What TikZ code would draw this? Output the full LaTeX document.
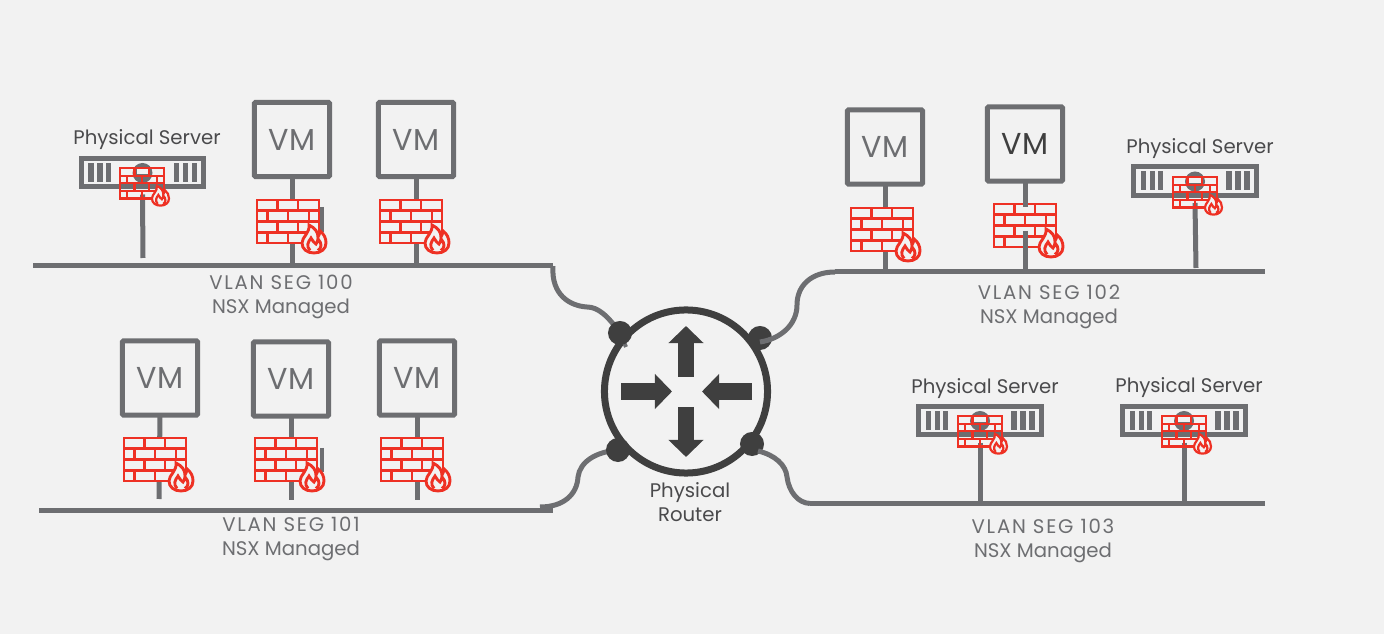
\documentclass[tikz,border=0pt]{standalone}
\usepackage{fontspec}
\setmainfont{Poppins}
\usepackage{tikz}
\usetikzlibrary{arrows.meta}

\definecolor{bgcol}{HTML}{F2F2F2}
\definecolor{wirecol}{HTML}{6D6E71}
\definecolor{routercol}{HTML}{3F3F3F}
\definecolor{fwcol}{HTML}{EE3124}
\definecolor{txtcol}{HTML}{4A4A4C}

\newcommand{\fwbricks}{
    \draw[fwline] (0,0) rectangle (62,43);
    \draw[fwline] (0,10.75) -- (62,10.75);
    \draw[fwline] (0,21.5) -- (62,21.5);
    \draw[fwline] (0,32.25) -- (62,32.25);
    \draw[fwline] (20.5,0) -- (20.5,10.75);
    \draw[fwline] (41,0) -- (41,10.75);
    \draw[fwline] (10.3,10.75) -- (10.3,21.5);
    \draw[fwline] (31,10.75) -- (31,21.5);
    \draw[fwline] (52,10.75) -- (52,21.5);
    \draw[fwline] (20.5,21.5) -- (20.5,32.25);
    \draw[fwline] (41,21.5) -- (41,32.25);
    \draw[fwline] (10.3,32.25) -- (10.3,43);
    \draw[fwline] (31,32.25) -- (31,43);
    % Flame
    \draw[fwline,fill=bgcol] (57,53) .. controls (50,53) and (45,49) .. (45,43)
        .. controls (45,37) and (53,33) .. (52,25)
        .. controls (58,28) and (61,32) .. (61,37)
        .. controls (62,35) and (63,33) .. (63,31)
        .. controls (67,34) and (69,38) .. (69,43)
        .. controls (69,49) and (64,53) .. (57,53) -- cycle;
    \draw[fwline] (53,50.5) .. controls (49,46) and (51,42) .. (54,38)
        .. controls (56,41) and (57,43) .. (59,44)
        .. controls (60,43) and (61,41) .. (61,39)
        .. controls (65,43) and (65,48) .. (61,50.5);
}
\newcommand{\seglines}[2]{{\addfontfeature{LetterSpace=9}#1}\\#2}

\tikzset{
    x=0.01cm, y=-0.01cm,
    seg/.style={draw=wirecol,line width=0.05cm},
    drop/.style={draw=wirecol,line width=0.05cm},
    stub/.style={draw=wirecol,line width=0.04cm},
    vmbox/.style={draw=wirecol,line width=0.05cm,rounded corners=0.01cm,minimum width=0.75cm,
        minimum height=0.74cm,inner sep=0pt,outer sep=0pt,text=wirecol,
        font=\fontsize{8.6pt}{10pt}\selectfont},
    serverbox/.style={draw=wirecol,line width=0.05cm,fill=bgcol,minimum width=1.22cm,
        minimum height=0.28cm,inner sep=0pt,outer sep=0pt},
    srvlabel/.style={text=txtcol,inner sep=0pt,font=\fontsize{5.6pt}{6.83pt}\selectfont},
    seglabel/.style={text=wirecol,inner sep=0pt,align=center,font=\fontsize{5.6pt}{6.83pt}\selectfont},
    portdot/.style={circle,fill=routercol,minimum size=0.24cm,inner sep=0pt,outer sep=0pt},
    routerarrow/.style={draw=routercol,line width=0.16cm,
        -{Triangle[length=0.17cm,width=0.34cm,fill=routercol]}},
    fwline/.style={draw=fwcol,line width=0.029cm},
    fwbig/.style={},
    fwsmall/.style={scale=0.71,fwline/.style={draw=fwcol,line width=0.022cm}},
    firewall/.pic={\fill[bgcol] (0,0) rectangle (62,43); \fwbricks},
    fwopen/.pic={\fwbricks},
    srvface/.pic={
        \fill[wirecol] (0,0.5) circle (10);
        \fill[bgcol] (-6,-3) rectangle (6,2);
        \fill[wirecol] (-54.5,-9.5) rectangle (-49,9.5);
        \fill[wirecol] (-45.5,-9.5) rectangle (-40,9.5);
        \fill[wirecol] (-37,-9.5) rectangle (-32,9.5);
        \fill[wirecol] (31,-9.5) rectangle (36.5,9.5);
        \fill[wirecol] (40,-9.5) rectangle (45.5,9.5);
        \fill[wirecol] (49,-9.5) rectangle (54.5,9.5);
    }
}

\begin{document}
\begin{tikzpicture}
\fill[bgcol] (0,0) rectangle (1384,634);

% Segment ends
\coordinate (seg100w) at (33,266);
\coordinate (seg100e) at (553,266);
\coordinate (seg101w) at (39,510.5);
\coordinate (seg101e) at (553,510.5);
\coordinate (seg101c) at (540,507);
\coordinate (seg102w) at (835,272);
\coordinate (seg102e) at (1265,272);
\coordinate (seg103w) at (810,503.5);
\coordinate (seg103e) at (1265,503.5);
\coordinate (C1) at (620,333);
\coordinate (C1b) at (626,347);
\coordinate (C3) at (618,450);

% Router
\node[portdot] (P2) at (760,338){};
\node[circle,draw=routercol,line width=0.07cm,fill=bgcol,minimum size=1.63cm,inner sep=0pt] (R1) at (686,391.5){};
\draw[routerarrow] (686,377) -- (686,326);
\draw[routerarrow] (686,407) -- (686,457);
\draw[routerarrow] (621,391.5) -- (672,391.5);
\draw[routerarrow] (752,391.5) -- (702,391.5);
\node[seglabel,text=txtcol] (R1label) at (690,502){Physical\\Router};

% Segments
\draw[seg] (seg100w) -- (seg100e);
\draw[seg] (seg101w) -- (seg101e);
\draw[seg] (seg102w) -- (seg102e);
\draw[seg] (seg103w) -- (seg103e);

% Uplinks
\draw[seg] (seg100e) .. controls (551,295) and (570,306) .. (587,307)
    .. controls (598,307) and (608,316) .. (C1);
\draw[stub] (C1) -- (C1b);
\draw[seg] (seg101c) .. controls (563,507) and (577,495) .. (578,477)
    .. controls (580,462) and (595,452) .. (C3);
\node[portdot] (P1) at (C1){};
\node[portdot] (P3) at (C3){};
\node[portdot] (P4) at (752,444){};
\draw[seg] (seg102w) .. controls (812,272) and (797,285) .. (797,305)
    .. controls (797,325) and (780,339) .. (760,342);
\draw[seg] (758,451) .. controls (775,455) and (786,465) .. (787,477)
    .. controls (789,492) and (798,503) .. (seg103w);

% VM boxes
\node[vmbox] (VM1) at (292,139.5){VM};
\node[vmbox] (VM2) at (416,139.5){VM};
\node[vmbox] (VM3) at (160,378){VM};
\node[vmbox] (VM4) at (291,379){VM};
\node[vmbox] (VM5) at (417,378){VM};
\node[vmbox] (VM6) at (885,147){VM};
\node[vmbox,text=routercol] (VM7) at (1025,144){VM};

% Servers
\node[serverbox] (S1) at (142.5,172.5){};
\node[serverbox] (S2) at (1195,181){};
\node[serverbox] (S3) at (980,420.5){};
\node[serverbox] (S4) at (1184,420.5){};
\pic at (S1) {srvface};
\pic at (S2) {srvface};
\pic at (S3) {srvface};
\pic at (S4) {srvface};
\node[srvlabel] (S1label) at (147,140){Physical Server};
\node[srvlabel] (S2label) at (1200,149){Physical Server};
\node[srvlabel] (S3label) at (985,388.5){Physical Server};
\node[srvlabel] (S4label) at (1189,387.5){Physical Server};

% Drops
\coordinate (T1) at (143,258);
\coordinate (T2) at (1196,268);
\coordinate (T3) at (159,499);
\coordinate (T4) at (291,500);
\coordinate (T5) at (417,500);
\draw[drop] ([yshift=-0.08cm]S1.south) -- (T1);
\draw[drop] (VM1.south) -- (VM1.south |- seg100w);
\draw[drop] (VM2.south) -- (VM2.south |- seg100w);
\draw[drop] (VM3.south) -- (T3);
\draw[drop] (VM4.south) -- (T4);
\draw[drop] (VM5.south) -- (T5);
\draw[drop] (VM6.south) -- (VM6.south |- seg102w);
\draw[drop] ([yshift=-0.08cm]S2.south) -- (T2);
\draw[drop] ([yshift=-0.08cm]S3.south) -- (S3.south |- seg103w);
\draw[drop] ([yshift=-0.08cm]S4.south) -- (S4.south |- seg103w);
\draw[stub] (322,207) -- (322,232);
\draw[stub] (322,448) -- (322,472);

% Firewalls
\pic[fwsmall] at (120,168) {fwopen};
\pic[fwbig] at (257,200) {firewall};
\pic[fwbig] at (380,200) {firewall};
\pic[fwbig] at (124,438) {firewall};
\pic[fwbig] at (255,438) {firewall};
\pic[fwbig] at (381,438) {firewall};
\pic[fwbig] at (851,208) {firewall};
\pic[fwbig] at (994,204) {firewall};
\pic[fwsmall] at (1173,177) {fwopen};
\pic[fwsmall] at (958,416) {fwopen};
\pic[fwsmall] at (1162,416) {fwopen};
\draw[drop] (VM7.south) -- (1025,207);
\draw[drop] (1025,231) -- (VM7.south |- seg102w);

% Labels
\node[seglabel] (L100) at (281,296.5){\seglines{VLAN SEG 100}{NSX Managed}};
\node[seglabel] (L101) at (291,538.5){\seglines{VLAN SEG 101}{NSX Managed}};
\node[seglabel] (L102) at (1049,306.5){\seglines{VLAN SEG 102}{NSX Managed}};
\node[seglabel] (L103) at (1043,540.5){\seglines{VLAN SEG 103}{NSX Managed}};
\end{tikzpicture}
\end{document}
